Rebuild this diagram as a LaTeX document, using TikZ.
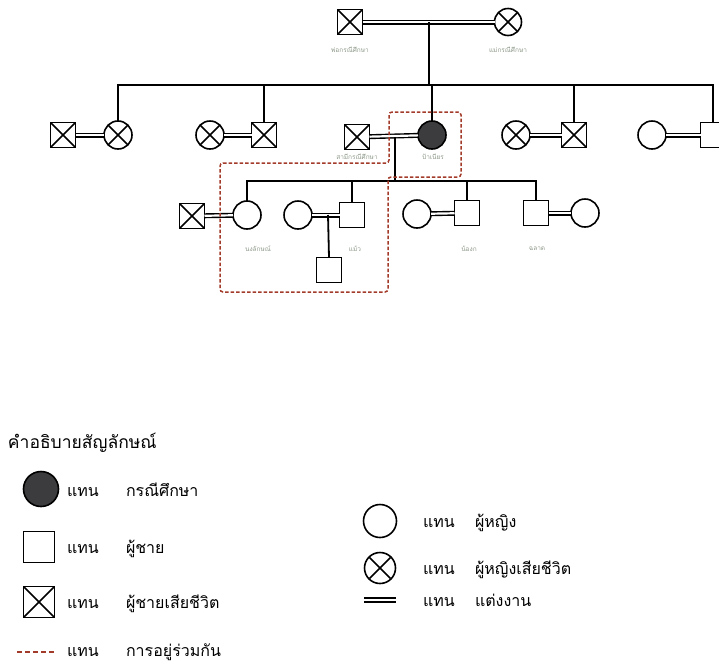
\documentclass[tikz,border=0pt]{standalone}
\usepackage{fontspec}
\newfontfamily\thai[Script=Thai]{Loma}
\definecolor{cohab}{HTML}{A33B2A}
\definecolor{lbl}{HTML}{8E9A8A}
\definecolor{casefill}{HTML}{3C3C3E}
\begin{document}
\begin{tikzpicture}[x=1pt,y=-1pt,
  every node/.style={inner sep=0pt,outer sep=0pt},
  male/.style={draw,line width=1.8pt,rectangle,minimum size=25pt},
  female/.style={draw,line width=1.6pt,circle,minimum size=28pt},
  dead/.style={path picture={\draw[line width=1.7pt] (path picture bounding box.north west)--(path picture bounding box.south east) (path picture bounding box.north east)--(path picture bounding box.south west);}},
  deadf/.style={path picture={\draw[line width=1.6pt] (path picture bounding box.center)++(45:15pt)--++(225:30pt) (path picture bounding box.center)++(135:15pt)--++(315:30pt);}},
  casenode/.style={female,fill=casefill},
  marr/.style={double,double distance=2.2pt,line width=1.4pt},
  line/.style={line width=1.8pt},
  cohabline/.style={draw=cohab,line width=1.5pt,dash pattern=on 3.5pt off 2pt,rounded corners=3pt},
  lab/.style={font=\thai\fontsize{6.5}{7}\selectfont,text=lbl},
  leg/.style={font=\thai\fontsize{16}{18}\selectfont,anchor=base west}]
\useasboundingbox (0,0) rectangle (719,662);
\clip (0,0) rectangle (719,662);
% generation 1
\node[male,dead] (gf) at (350,22) {};
\node[female,deadf,minimum size=27pt] (gm) at (508,22) {};
\draw[marr] (gf) -- (gm);
\node[lab] (gfl) at (350,50) {พ่อกรณีศึกษา};
\node[lab] (gml) at (508,50) {แม่กรณีศึกษา};
\coordinate (p1) at (429,22);
\coordinate (p1b) at (429,85);
\draw[line] (p1) -- (p1b);
% generation 2
\node[male,dead] (a1) at (63,135) {};
\node[female,deadf] (a2) at (118,135) {};
\draw[marr] (a1) -- (a2);
\node[female,deadf] (b1) at (210,135) {};
\node[male,dead] (b2) at (264,135) {};
\draw[marr] (b1) -- (b2);
\node[male,dead] (h) at (357,137) {};
\node[casenode] (c) at (432,135) {};
\draw[marr] (h) -- (c);
\node[lab] (hl) at (357,157) {สามีกรณีศึกษา};
\node[lab] (cl) at (433,157) {ป้าเนียร};
\node[female,deadf] (d1) at (516,135) {};
\node[male,dead] (d2) at (574,135) {};
\draw[marr] (d1) -- (d2);
\node[female] (e1) at (652,135) {};
\node[male] (e2) at (713,135) {};
\draw[marr] (e1) -- (e2);
\coordinate (s1) at (118,85);
\coordinate (s5) at (713,85);
\draw[line] (a2.north) -- (s1) -- (s5) -- (e2.north);
\draw[line] (b2.north) -- (b2.north |- s1);
\draw[line] (c.north) -- (c.north |- s1);
\draw[line] (d2.north) -- (d2.north |- s1);
% generation 3
\coordinate (k0) at (395,137);
\coordinate (k1) at (395,181);
\draw[line] (k0) -- (k1);
\node[male,dead] (g1) at (192,216) {};
\node[female] (g2) at (247,215) {};
\draw[marr] (g1) -- (g2);
\node[female] (m1) at (298,215) {};
\node[male] (m2) at (352,215) {};
\draw[marr] (m1) -- (m2);
\node[female] (n1) at (417,214) {};
\node[male] (n2) at (467,213) {};
\draw[marr] (n1) -- (n2);
\node[male] (o1) at (536,213) {};
\node[female] (o2) at (585,213) {};
\draw[marr] (o1) -- (o2);
\coordinate (r0) at (247,181);
\coordinate (r1) at (536,181);
\draw[line] (g2.north) -- (r0) -- (r1) -- (o1.north);
\draw[line] (m2.north) -- (m2.north |- r0);
\draw[line] (n2.north) -- (n2.north |- r0);
\node[lab] (g2l) at (258,249) {นงลักษณ์};
\node[lab] (m2l) at (355,249) {แม้ว};
\node[lab] (n2l) at (469,249) {น้องก};
\node[lab] (o1l) at (537,249) {ฉลาด};
% generation 4
\coordinate (q0) at (328,215);
\node[male] (ch) at (329,270) {};
\draw[line] (q0) -- (ch.north);
% cohabitation boundary
\draw[cohabline] (220,163) -- (389,163) -- (389,112) -- (461,112) -- (461,177) -- (388,177) -- (388,292) -- (220,292) -- cycle;
% legend
\node[font=\thai\fontsize{17.5}{20}\selectfont,anchor=base west] (lt) at (8,448) {คำอธิบายสัญลักษณ์};
\node[female,fill=casefill,minimum size=35pt,line width=1.6pt] (l1) at (41,489) {};
\node[leg] (l1a) at (67,496) {แทน};
\node[leg] (l1b) at (126,496) {กรณีศึกษา};
\node[male,minimum size=31pt] (l2) at (39,547) {};
\node[leg] (l2a) at (67,553) {แทน};
\node[leg] (l2b) at (126,553) {ผู้ชาย};
\node[male,dead,minimum size=31pt] (l3) at (39,602) {};
\node[leg] (l3a) at (67,608) {แทน};
\node[leg] (l3b) at (126,608) {ผู้ชายเสียชีวิต};
\coordinate (l4s) at (17,652);
\coordinate (l4e) at (55,652);
\draw[draw=cohab,line width=1.8pt,dash pattern=on 5pt off 3pt] (l4s) -- (l4e);
\node[leg] (l4a) at (67,656) {แทน};
\node[leg] (l4b) at (126,656) {การอยู่ร่วมกัน};
\node[female,minimum size=33pt] (r1n) at (380,521) {};
\node[leg] (r1a) at (423,527) {แทน};
\node[leg] (r1b) at (475,527) {ผู้หญิง};
\node[female,deadf,minimum size=31pt] (r2n) at (380,568) {};
\node[leg] (r2a) at (423,574) {แทน};
\node[leg] (r2b) at (475,574) {ผู้หญิงเสียชีวิต};
\coordinate (r3s) at (364,600);
\coordinate (r3e) at (396,600);
\draw[double,double distance=2.5pt,line width=1.5pt] (r3s) -- (r3e);
\node[leg] (r3a) at (423,606) {แทน};
\node[leg] (r3b) at (475,606) {แต่งงาน};
\end{tikzpicture}
\end{document}
